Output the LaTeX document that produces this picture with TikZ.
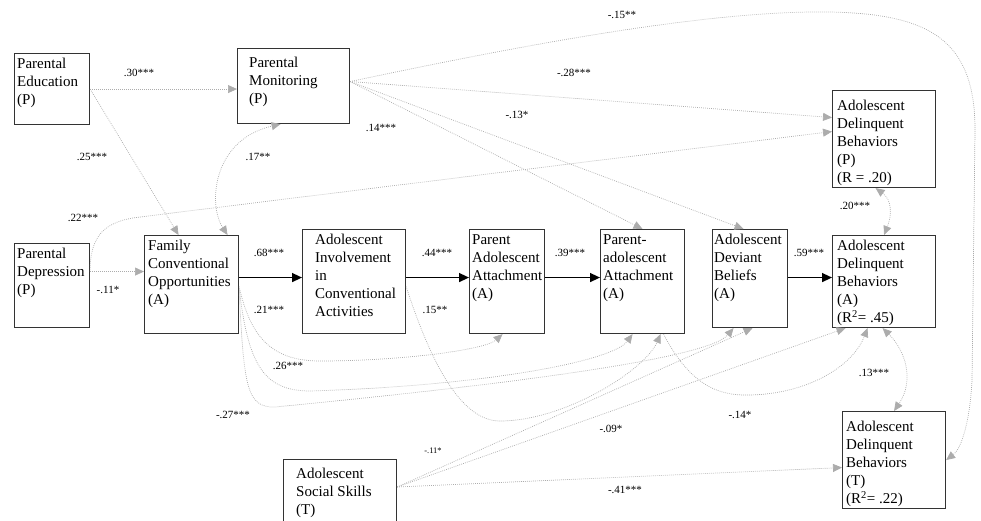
\documentclass[tikz,border=0pt]{standalone}
\usepackage{fontspec}
\setmainfont{Liberation Serif}
\usetikzlibrary{arrows.meta}
\begin{document}
\begin{tikzpicture}[x=1pt,y=-1pt,
  bx/.style={draw=black!80, line width=1.1pt, inner sep=0pt, anchor=north west},
  tx/.style={anchor=north west, inner sep=0pt, align=left, font=\fontsize{15}{18}\selectfont},
  lbl/.style={inner sep=0pt, font=\fontsize{11}{13}\selectfont},
  slbl/.style={inner sep=0pt, font=\fontsize{8.5}{10}\selectfont},
  mainarr/.style={draw=black, line width=1.4pt, -{Triangle[length=10pt,width=9pt]}},
  dotl/.style={draw=gray!65, line width=0.7pt, dash pattern=on 0.8pt off 1.2pt, -{Triangle[length=9pt,width=8pt]}},
  dotb/.style={dotl, {Triangle[length=9pt,width=8pt]}-{Triangle[length=9pt,width=8pt]}}
]
\useasboundingbox (0,0) rectangle (981,521);
\clip (0,0) rectangle (981,521);

% boxes
\node[bx, minimum width=75pt,  minimum height=71pt]  (pe)  at (14,53)  {};
\node[bx, minimum width=112pt, minimum height=75pt]  (pm)  at (237,48) {};
\node[bx, minimum width=103pt, minimum height=97pt]  (adp) at (832,90) {};
\node[bx, minimum width=75pt,  minimum height=84pt]  (pd)  at (14,243) {};
\node[bx, minimum width=94pt,  minimum height=98pt]  (fco) at (144,235) {};
\node[bx, minimum width=103pt, minimum height=104pt] (aic) at (302,229) {};
\node[bx, minimum width=75pt,  minimum height=104pt] (paa) at (469,229) {};
\node[bx, minimum width=84pt,  minimum height=104pt] (pa2) at (600,229) {};
\node[bx, minimum width=75pt,  minimum height=98pt]  (adb) at (712,229) {};
\node[bx, minimum width=103pt, minimum height=92pt]  (ada) at (832,235) {};
\node[bx, minimum width=113pt, minimum height=80pt]  (ass) at (283,459) {};
\node[bx, minimum width=103pt, minimum height=97pt]  (adt) at (842,411) {};

% box texts
\node[tx] (pe-t)  at (17,58)   {Parental\\Education\\(P)};
\node[tx] (pm-t)  at (249,57)  {Parental\\Monitoring\\(P)};
\node[tx] (adp-t) at (837,100) {Adolescent\\Delinquent\\Behaviors\\(P)\\(R = .20)};
\node[tx] (pd-t)  at (17,248)  {Parental\\Depression\\(P)};
\node[tx] (fco-t) at (148,240) {Family\\Conventional\\Opportunities\\(A)};
\node[tx] (aic-t) at (315,234) {Adolescent\\Involvement\\in\\Conventional\\Activities};
\node[tx] (paa-t) at (472,234) {Parent\\Adolescent\\Attachment\\(A)};
\node[tx] (pa2-t) at (603,234) {Parent-\\adolescent\\Attachment\\(A)};
\node[tx] (adb-t) at (714,234) {Adolescent\\Deviant\\Beliefs\\(A)};
\node[tx] (ada-t) at (837,240) {Adolescent\\Delinquent\\Behaviors\\(A)\\(R\textsuperscript{2}= .45)};
\node[tx] (ass-t) at (296,468) {Adolescent\\Social Skills\\(T)};
\node[tx] (adt-t) at (846,421) {Adolescent\\Delinquent\\Behaviors\\(T)\\(R\textsuperscript{2}= .22)};

% main chain
\draw[mainarr] ([yshift=7pt]fco.east) -- ([yshift=4pt]aic.west);
\draw[mainarr] ([yshift=4pt]aic.east) -- ([yshift=4pt]paa.west);
\draw[mainarr] ([yshift=4pt]paa.east) -- ([yshift=4pt]pa2.west);
\draw[mainarr] ([yshift=1pt]adb.east) -- ([yshift=4pt]ada.west);

% dotted paths
\draw[dotl] (pe.east) -- (pe.east -| pm.west);
\draw[dotl] (pe.east) -- ([xshift=-13pt]fco.north);
\draw[dotb] ([xshift=36pt]fco.north) .. controls (208,205) and (212,140) .. ([xshift=-13pt]pm.south);
\draw[dotl] ([yshift=14pt]pd.east) -- ([yshift=13pt]fco.west);
\draw[dotl] ([yshift=14pt]pd.east) .. controls (90,235) and (105,221) .. (140,217) -- ([yshift=7.5pt]adp.west);
\draw[dotl] ([yshift=4.5pt]pm.east) -- ([yshift=21.5pt]adp.west);
\draw[dotl] ([yshift=4.5pt]pm.east) .. controls (500,50) and (700,10) .. (830,12)
   .. controls (930,14) and (975,40) .. (975,130) -- (972,380)
   .. controls (970,420) and (962,448) .. (adt.east);
\draw[dotl] ([yshift=4.5pt]pm.east) -- (pa2.north);
\draw[dotl] ([yshift=4.5pt]pm.east) -- ([xshift=-6.5pt]adb.north);
\draw[dotl] ([yshift=-2pt]fco.east) .. controls (250,335) and (270,361) .. (320,361)
   .. controls (400,361) and (485,350) .. ([xshift=-4.5pt]paa.south);
\draw[dotl] ([yshift=-4pt]fco.east) .. controls (248,362) and (262,391) .. (310,391)
   .. controls (480,386) and (612,362) .. ([xshift=-10pt]pa2.south);
\draw[dotl] ([yshift=-6pt]fco.east) .. controls (244,385) and (246,408) .. (275,407)
   .. controls (450,390) and (705,362) .. ([xshift=-16.5pt]adb.south);
\draw[dotl] ([yshift=-5pt]aic.east) .. controls (430,360) and (460,421) .. (500,421)
   .. controls (565,421) and (645,370) .. ([xshift=18pt]pa2.south);
\draw[dotl] ([xshift=21pt]pa2.south) .. controls (690,385) and (718,396) .. (750,395)
   .. controls (805,394) and (852,368) .. ([xshift=-16.5pt]ada.south);
\draw[dotl] ([yshift=-28pt]ass.north east) -- ([xshift=2.5pt]adb.south);
\draw[dotl] ([yshift=-28pt]ass.north east) -- ([xshift=-38.5pt]ada.south);
\draw[dotl] ([yshift=-28pt]ass.north east) -- ([yshift=-7.5pt]adt.west);
\draw[dotb] ([xshift=-8.5pt]adp.south) .. controls (892,200) and (892,215) .. (ada.north);
\draw[dotb] ([xshift=-1.5pt]ada.south) .. controls (905,350) and (915,380) .. (adt.north);

% labels
\node[lbl] (l30)  at (139,73)  {.30***};
\node[lbl] (l25)  at (92,157)  {.25***};
\node[lbl] (l17)  at (258,157) {.17**};
\node[lbl] (l15a) at (622,15)  {-.15**};
\node[lbl] (l28)  at (574,73)  {-.28***};
\node[lbl] (l14)  at (381,128) {.14***};
\node[lbl] (l13)  at (517,115) {-.13*};
\node[lbl] (l22)  at (83,218)  {.22***};
\node[lbl] (l11a) at (108,290) {-.11*};
\node[lbl] (l68)  at (269,253) {.68***};
\node[lbl] (l21)  at (269,310) {.21***};
\node[lbl] (l26)  at (288,366) {.26***};
\node[lbl] (l27)  at (233,415) {-.27***};
\node[lbl] (l44)  at (437,253) {.44***};
\node[lbl] (l15b) at (435,310) {.15**};
\node[lbl] (l39)  at (570,253) {.39***};
\node[lbl] (l59)  at (809,253) {.59***};
\node[lbl] (l20)  at (855,206) {.20***};
\node[lbl] (l13b) at (874,373) {.13***};
\node[lbl] (l14b) at (740,415) {-.14*};
\node[lbl] (l09)  at (611,429) {-.09*};
\node[slbl] (l11b) at (433,451) {-.11*};
\node[lbl] (l41)  at (625,490) {-.41***};
\end{tikzpicture}
\end{document}
